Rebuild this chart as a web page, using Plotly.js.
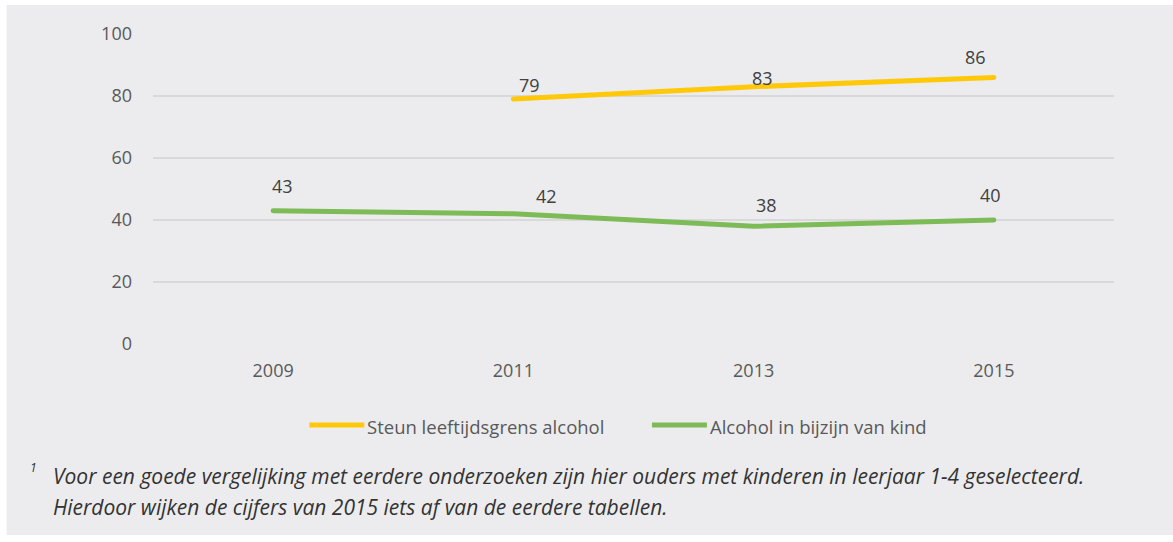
<!DOCTYPE html>
<html>
<head>
<meta charset="utf-8">
<script src="https://cdn.plot.ly/plotly-3.0.1.min.js"></script>
<style>
  html, body { margin: 0; padding: 0; background: #ffffff; }
  #chart { width: 1173px; height: 542px; }
  #chart .scatterlayer path.js-line { stroke-linecap: round; }
</style>
</head>
<body>
<div id="chart"></div>
<script>
// ---- data ----
var years = ['2009', '2011', '2013', '2015'];
var seriesNames = ['Steun leeftijdsgrens alcohol', 'Alcohol in bijzijn van kind'];
var steunValues = [null, 79, 83, 86];
var bijzijnValues = [43, 42, 38, 40];
var yTickValues = [0, 20, 40, 60, 80, 100];
var footnoteMark = '1';
var footnoteLines = [
  'Voor een goede vergelijking met eerdere onderzoeken zijn hier ouders met kinderen in leerjaar 1-4 geselecteerd.',
  'Hierdoor wijken de cijfers van 2015 iets af van de eerdere tabellen.'
];

// ---- layout helpers (pixel geometry of the plot area) ----
var W = 1173, H = 542;
var L = 152.5, R = 1114.5, T = 34, B = 344;
function px2paperX(px) { return (px - L) / (R - L); }
function px2paperY(py) { return (B - py) / (B - T); }

var FONT = '"Open Sans", Lato, sans-serif';
var colors = ['#FFC90A', '#7DBB57'];
var labelShifts = [
  [null, [16, 14], [9, 9], [-18, 20]],
  [[9, 25], [33, 18], [13, 21], [-3, 25]]
];

var traces = [
  {x: years, y: steunValues, name: seriesNames[0], type: 'scatter', mode: 'lines',
   line: {color: colors[0], width: 5}, connectgaps: false, hoverinfo: 'skip'},
  {x: years, y: bijzijnValues, name: seriesNames[1], type: 'scatter', mode: 'lines',
   line: {color: colors[1], width: 5}, hoverinfo: 'skip'}
];

var annotations = [];
var allSeries = [steunValues, bijzijnValues];
allSeries.forEach(function (vals, s) {
  vals.forEach(function (v, i) {
    if (v === null) return;
    var sh = labelShifts[s][i] || [0, 12];
    annotations.push({
      x: i, y: v, xref: 'x', yref: 'y', text: String(v), showarrow: false,
      xanchor: 'center', yanchor: 'middle',
      xshift: sh[0], yshift: sh[1],
      font: {family: FONT, size: 18, color: '#404040'}
    });
  });
});

// legend (drawn manually to match line sample length)
var shapes = [
  {type: 'rect', xref: 'paper', yref: 'paper', layer: 'below',
   x0: px2paperX(6), x1: px2paperX(W + 2), y0: px2paperY(535), y1: px2paperY(5),
   fillcolor: '#ECECEE', line: {width: 0}}
];
var legendItems = [{x0: 309, x1: 364, tx: 365}, {x0: 652, x1: 707, tx: 708}];
legendItems.forEach(function (it, s) {
  shapes.push({type: 'line', xref: 'paper', yref: 'paper',
    x0: px2paperX(it.x0), x1: px2paperX(it.x1), y0: px2paperY(425), y1: px2paperY(425),
    line: {color: colors[s], width: 5}});
  annotations.push({xref: 'paper', yref: 'paper', x: px2paperX(it.tx), y: px2paperY(426),
    xanchor: 'left', yanchor: 'middle', showarrow: false, text: seriesNames[s],
    font: {family: FONT, size: 18.5, color: '#595959'}});
});

// footnote
annotations.push({xref: 'paper', yref: 'paper', x: px2paperX(27), y: px2paperY(467),
  xanchor: 'left', yanchor: 'middle', showarrow: false, text: '<i>' + footnoteMark + '</i>',
  font: {family: FONT, size: 12, color: '#333333'}});
footnoteLines.forEach(function (line, k) {
  annotations.push({xref: 'paper', yref: 'paper', x: px2paperX(50), y: px2paperY(476 + k * 31),
    xanchor: 'left', yanchor: 'middle', showarrow: false, text: '<i>' + line + '</i>',
    font: {family: FONT, size: 21, color: '#333333'}});
});

var layout = {
  width: W, height: H,
  margin: {l: L, r: W - R, t: T, b: H - B, pad: 0},
  paper_bgcolor: '#ffffff',
  plot_bgcolor: 'rgba(0,0,0,0)',
  showlegend: false,
  font: {family: FONT, size: 18, color: '#595959'},
  xaxis: {
    type: 'category', range: [-0.5, 3.5], showgrid: false, zeroline: false, showline: false,
    ticks: '', tickfont: {size: 18, color: '#595959'}, ticklabelstandoff: 14, fixedrange: true
  },
  yaxis: {
    range: [0, 100], tickvals: yTickValues, showgrid: true, gridcolor: '#D9D9DB', gridwidth: 2,
    zeroline: false, showline: false, ticks: '', ticklabelstandoff: 20,
    tickfont: {size: 18, color: '#595959'}, fixedrange: true
  },
  shapes: shapes,
  annotations: annotations
};

Plotly.newPlot('chart', traces, layout, {staticPlot: true, displayModeBar: false});
</script>
</body>
</html>
